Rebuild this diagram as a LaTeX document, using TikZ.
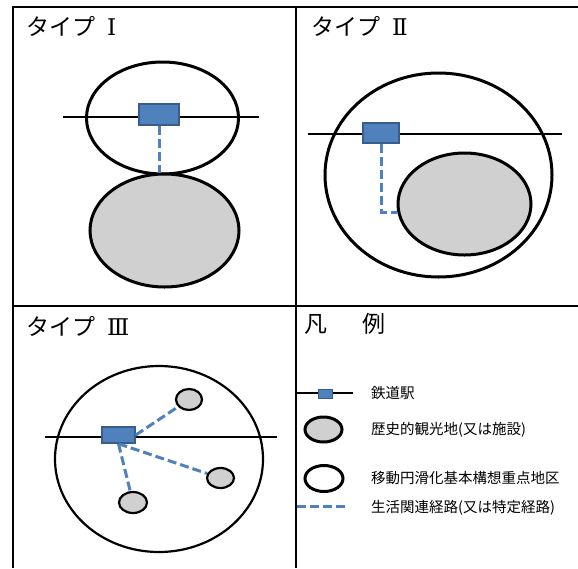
\documentclass[tikz,border=0pt]{standalone}
\usepackage{fontspec}
\setmainfont{Noto Sans CJK JP}
\newfontfamily\numfont{DejaVu Serif}
\usetikzlibrary{shapes.geometric}
\definecolor{stationblue}{HTML}{4F81BD}
\definecolor{stationedge}{HTML}{385D8A}
\definecolor{sitegray}{HTML}{D0D0D0}
\begin{document}
\begin{tikzpicture}[x=1pt,y=-1pt,
    area/.style={draw,ellipse,line width=3pt,inner sep=0pt},
    site/.style={area,fill=sitegray},
    station/.style={draw=stationedge,fill=stationblue,line width=1.5pt,inner sep=0pt},
    route/.style={stationblue,line width=3pt,dash pattern=on 9pt off 4pt},
    rail/.style={line width=2.5pt},
    title/.style={anchor=west,inner sep=0pt,font=\fontsize{23}{23}\selectfont},
    legend/.style={anchor=west,inner sep=0pt,font=\fontsize{14.5}{14.5}\selectfont}]
    \useasboundingbox (0,0) rectangle (578,568);
    \draw[line width=2.5pt] (578,7) -- (13,7) -- (13,568);
    \draw[line width=2.5pt] (296,7) -- (296,568);
    \draw[line width=2.5pt] (13,306) -- (578,306);
    % type I
    \node[title] (t1) at (26,26) {タイプ{\numfont\hspace{12pt}Ⅰ}};
    \node[area,minimum width=152pt,minimum height=112pt] (d1) at (162.5,118) {};
    \node[site,minimum width=149pt,minimum height=113pt] (h1) at (164.5,230.5) {};
    \coordinate (r1w) at (63,117);
    \coordinate (r1e) at (259,117);
    \draw[rail] (r1w) -- (r1e);
    \node[station,minimum width=40pt,minimum height=21pt] (s1) at (159,114.5) {};
    \draw[route] (s1.south) -- (s1.south |- h1.north);
    % type II
    \node[title] (t2) at (311,26) {タイプ{\numfont\hspace{12pt}Ⅱ}};
    \node[area,minimum width=227pt,minimum height=204pt] (d2) at (438.5,175) {};
    \node[site,minimum width=133pt,minimum height=102pt] (h2) at (464.5,204) {};
    \coordinate (r2w) at (308,134);
    \coordinate (r2e) at (562,134);
    \draw[rail] (r2w) -- (r2e);
    \node[station,minimum width=36pt,minimum height=20pt] (s2) at (381,133) {};
    \draw[route] (s2.south) |- (h2.187);
    % type III
    \node[title] (t3) at (26,326) {タイプ{\numfont\hspace{12pt}Ⅲ}};
    \node[area,line width=2.2pt,minimum width=208pt,minimum height=186pt] (d3) at (159,459) {};
    \coordinate (r3w) at (45,437);
    \coordinate (r3e) at (277,437);
    \draw[rail] (r3w) -- (r3e);
    \node[site,line width=2.2pt,minimum width=26pt,minimum height=21pt] (a3) at (189,399.5) {};
    \node[site,line width=2.2pt,minimum width=27pt,minimum height=20pt] (b3) at (220.5,478) {};
    \node[site,line width=2.2pt,minimum width=28pt,minimum height=21pt] (c3) at (133,502.5) {};
    \node[station,minimum width=33pt,minimum height=16pt] (s3) at (118.5,435) {};
    \draw[route] (s3.east) -- (a3);
    \draw[route] (s3.south) -- (b3);
    \draw[route] (s3.south) -- (c3);
    % legend
    \node[title] (t4) at (304,324) {凡\hspace{35pt}例};
    \coordinate (k1w) at (297,393);
    \coordinate (k1e) at (353,393);
    \draw[rail] (k1w) -- (k1e);
    \node[station,line width=1pt,minimum width=14pt,minimum height=9pt] (k1) at (325,393.5) {};
    \node[site,minimum width=37pt,minimum height=25pt] (k2) at (323.5,429.5) {};
    \node[area,minimum width=38pt,minimum height=26pt] (k3) at (324,478.5) {};
    \coordinate (k4w) at (297,506);
    \coordinate (k4e) at (348,506);
    \draw[route] (k4w) -- (k4e);
    \node[legend] (l1) at (371,393) {鉄道駅};
    \node[legend] (l2) at (371,430) {歴史的観光地(又は施設)};
    \node[legend] (l3) at (371,478) {移動円滑化基本構想重点地区};
    \node[legend] (l4) at (371,508) {生活関連経路(又は特定経路)};
\end{tikzpicture}
\end{document}
